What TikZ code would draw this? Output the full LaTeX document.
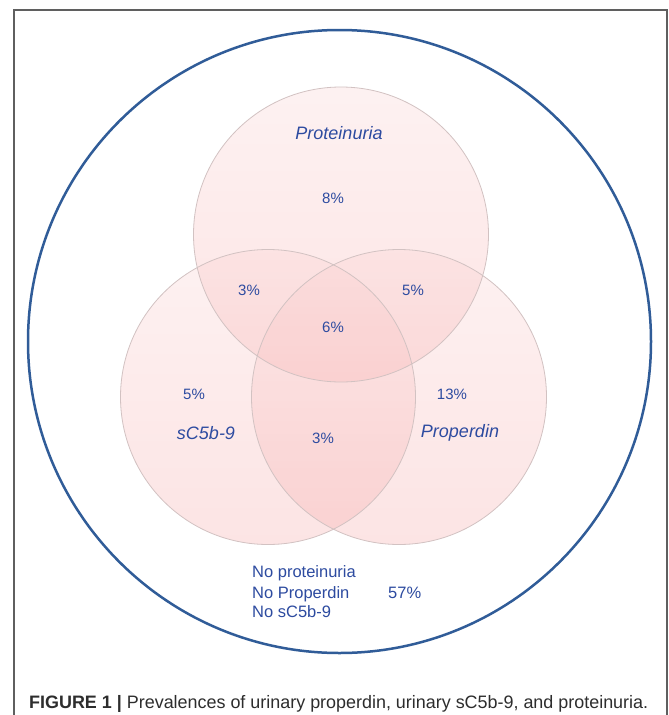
\documentclass[tikz,border=0pt]{standalone}
\usepackage{fontspec}
\setmainfont{Liberation Sans}
\usepackage{xcolor}
\usepackage{graphicx}
\definecolor{labelblue}{RGB}{45,75,160}
\definecolor{ringblue}{RGB}{48,92,152}
\definecolor{setpink}{RGB}{245,145,145}
\definecolor{setedge}{RGB}{210,194,194}
\definecolor{framegray}{RGB}{95,95,95}
\definecolor{captiongray}{RGB}{45,45,45}

\tikzset{
  setname/.style={text=labelblue, font=\fontsize{18}{20}\selectfont\itshape},
  pct/.style={text=labelblue, font=\fontsize{15}{16}\selectfont},
  restline/.style={text=labelblue, font=\fontsize{16.5}{20}\selectfont, anchor=base west, inner sep=0pt},
  vennfill/.style={top color=setpink!40, bottom color=setpink!80, fill opacity=0.3, draw=none},
  vennedge/.style={draw=setedge, line width=0.8pt}
}

\begin{document}
\begin{tikzpicture}[x=1pt, y=-1pt]
    \useasboundingbox (0,0) rectangle (669,715);
    \fill [white] (0,0) rectangle (669,715);
    % frame
    \draw [framegray, line width=1.5pt] (14,720)--(14,10)--(667,10)--(667,720);
    % outer set
    \draw [ringblue, line width=2.5pt] (339.5,341.5) circle (311.5pt);
    % the three sets
    \coordinate (prot) at (341,234.5);
    \coordinate (sc) at (268,397);
    \coordinate (prop) at (399,397);
    \shade [vennfill] (prot) circle (147.5pt);
    \shade [vennfill] (sc) circle (147.5pt);
    \shade [vennfill] (prop) circle (147.5pt);
    \draw [vennedge] (prot) circle (147.5pt);
    \draw [vennedge] (sc) circle (147.5pt);
    \draw [vennedge] (prop) circle (147.5pt);
    % names
    \node [setname] (protname) at (339,133) {Proteinuria};
    \node [setname] (scname) at (206,433) {sC5b-9};
    \node [setname] (propname) at (460,433) {Properdin};
    % values
    \node [pct] (p8) at (333,198) {8\%};
    \node [pct] (p3a) at (249,290) {3\%};
    \node [pct] (p5a) at (413,290) {5\%};
    \node [pct] (p6) at (333,327) {6\%};
    \node [pct] (p5b) at (194,394) {5\%};
    \node [pct] (p13) at (452,394) {13\%};
    \node [pct] (p3b) at (323,438) {3\%};
    % none of them
    \node [restline] (noprot) at (252,577) {No proteinuria};
    \node [restline] (noprop) at (252,598) {No Properdin};
    \node [restline] (nosc) at (252,617) {No sC5b-9};
    \node [restline] (p57) at (388,598) {57\%};
    % caption
    \node [anchor=base west, inner sep=0pt, text=captiongray] (caption) at (29,708)
      {\resizebox{619pt}{\height}{\fontsize{18}{20}\selectfont\textbf{FIGURE 1 |} Prevalences of urinary properdin, urinary sC5b-9, and proteinuria.}};
\end{tikzpicture}
\end{document}
